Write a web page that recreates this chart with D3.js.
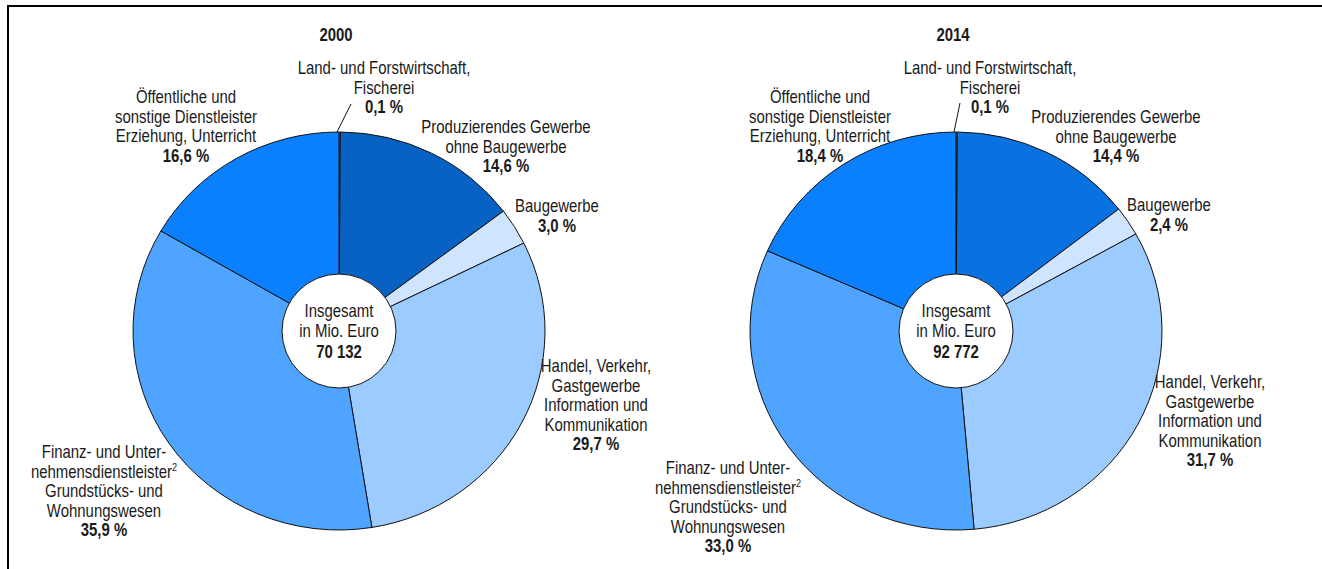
<!DOCTYPE html>
<html lang="de">
<head>
<meta charset="utf-8">
<script src="https://cdn.jsdelivr.net/npm/d3@7"></script>
<style>
  html, body { margin: 0; padding: 0; background: #fff; }
  svg { display: block; }
  text { font-family: "Liberation Sans", Arial, sans-serif; fill: #1a1a1a; }
</style>
</head>
<body>
<svg id="chart" width="1322" height="569"></svg>
<script>
// Bruttowertschöpfung nach Wirtschaftsbereichen, Anteile in Prozent
const years = ["2000", "2014"];
const totals = ["70 132", "92 772"];
const sectors = [
  "Land- und Forstwirtschaft, Fischerei",
  "Produzierendes Gewerbe ohne Baugewerbe",
  "Baugewerbe",
  "Handel, Verkehr, Gastgewerbe, Information und Kommunikation",
  "Finanz- und Unternehmensdienstleister, Grundstücks- und Wohnungswesen",
  "Öffentliche und sonstige Dienstleister, Erziehung, Unterricht"
];
const shares2000 = [0.1, 14.6, 3.0, 29.7, 35.9, 16.6];
const shares2014 = [0.1, 14.4, 2.4, 31.7, 33.0, 18.4];

// Label text, one entry per line ("^2" marks a superscript footnote)
const labelLines = [
  ["Land- und Forstwirtschaft,", "Fischerei"],
  ["Produzierendes Gewerbe", "ohne Baugewerbe"],
  ["Baugewerbe"],
  ["Handel, Verkehr,", "Gastgewerbe", "Information und", "Kommunikation"],
  ["Finanz- und Unter-", "nehmensdienstleister^2", "Grundstücks- und", "Wohnungswesen"],
  ["Öffentliche und", "sonstige Dienstleister", "Erziehung, Unterricht"]
];

const colors2000 = ["#99c8ff", "#0862c4", "#cfe5ff", "#9ccbff", "#4ea4ff", "#0a80ff"];
const colors2014 = ["#99c8ff", "#0a71e0", "#cfe5ff", "#9ccbff", "#4ea4ff", "#0a80ff"];

const svg = d3.select("#chart");
const W = 1322, H = 569;

// Frame
svg.append("rect")
  .attr("x", 8).attr("y", 6)
  .attr("width", W + 20).attr("height", H + 20)
  .attr("fill", "none").attr("stroke", "#000").attr("stroke-width", 2);

const fmt = v => d3.format(".1f")(v).replace(".", ",") + " %";

// Pies are slightly wider than tall
const RX = 206, RY = 199, r0 = 57, cy = 331, lineH = 19.6, FS = 18, SQX = 0.83;

// Per-pie layout: centre and label anchors (offset x from centre, y of first line)
const layouts = [
  { cx: 339, labels: [[45, 68], [167, 127], [218, 206], [257, 366], [-235, 452], [-153, 97]],
    leader: [12, -227] },
  { cx: 956, labels: [[34, 68], [160, 117], [213, 205], [254, 382], [-228, 468], [-136, 97]],
    leader: [4, -228] }
];

const pie = d3.pie().sort(null).value(d => d);
const arc = d3.arc().innerRadius(0).outerRadius(RY);

// A condensed text block: horizontally squeezed around its anchor
function textBlock(x, y) {
  return svg.append("g").attr("transform", `translate(${x},${y}) scale(${SQX},1)`)
    .append("text").attr("text-anchor", "middle").style("font-size", FS + "px");
}

[shares2000, shares2014].forEach((shares, k) => {
  const L = layouts[k];
  const colors = k === 0 ? colors2000 : colors2014;
  const g = svg.append("g").attr("transform", `translate(${L.cx},${cy})`);
  const gp = g.append("g").attr("transform", `scale(${RX / RY},1)`);

  gp.selectAll("path.slice")
    .data(pie(shares))
    .join("path")
    .attr("class", "slice")
    .attr("d", arc)
    .attr("fill", (d, i) => colors[i])
    .attr("stroke", "#111")
    .attr("stroke-width", 1)
    .attr("vector-effect", "non-scaling-stroke")
    .attr("stroke-linejoin", "round");

  // Centre disc with total
  g.append("circle").attr("r", r0).attr("fill", "#fff").attr("stroke", "#111").attr("stroke-width", 1);
  const ct = textBlock(L.cx, cy);
  ct.append("tspan").attr("x", 0).attr("y", -14).text("Insgesamt");
  ct.append("tspan").attr("x", 0).attr("y", 6).text("in Mio. Euro");
  ct.append("tspan").attr("x", 0).attr("y", 27).attr("font-weight", "bold").text(totals[k]);

  // Year heading
  textBlock(L.cx - 3, 41).attr("font-weight", "bold").text(years[k]);

  // Leader line for the smallest slice
  g.append("line")
    .attr("x1", L.leader[0]).attr("y1", L.leader[1])
    .attr("x2", -2).attr("y2", -RY)
    .attr("stroke", "#111").attr("stroke-width", 1);

  // Slice labels
  shares.forEach((v, i) => {
    const [dx, y0] = L.labels[i];
    const t = textBlock(L.cx + dx, 0);
    const lines = labelLines[i];
    lines.forEach((ln, j) => {
      const tsp = t.append("tspan").attr("x", 0).attr("y", y0 + 6 + j * lineH);
      if (ln.includes("^")) {
        const [main, sup] = ln.split("^");
        tsp.text(main);
        t.append("tspan").attr("dy", -7).style("font-size", "11px").text(sup);
      } else {
        tsp.text(ln);
      }
    });
    t.append("tspan")
      .attr("x", 0).attr("y", y0 + 6 + lines.length * lineH)
      .attr("font-weight", "bold")
      .text(fmt(v));
  });
});
</script>
</body>
</html>
